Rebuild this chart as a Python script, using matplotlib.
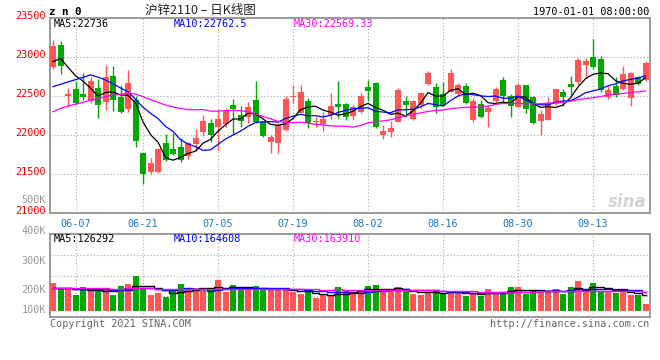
import numpy as np
import pandas as pd
import matplotlib
matplotlib.use('Agg')
import matplotlib.pyplot as plt
from matplotlib import transforms

W, H = 660, 360

# trading days shown (SHFE holidays removed)
dates = pd.bdate_range('2021-06-02', '2021-09-24')
dates = dates.drop(pd.to_datetime(['2021-06-14', '2021-09-20', '2021-09-21']))
day_labels = list(dates.strftime('%m-%d'))
tick_labels = ['06-07', '06-21', '07-05', '07-19', '08-02', '08-16', '08-30', '09-13']

# daily OHLC
open_ = [22872, 23158, 22504, 22594, 22529, 22439, 22610, 22430, 22764, 22487,
         22337, 22452, 21769, 21533, 21525, 21897, 21820, 21854, 21734, 21884,
         22046, 22161, 22110, 22145, 22388, 22259, 22230, 22452, 22169, 21918,
         21905, 22068, 22487, 22290, 22439, 22165, 22145, 22260, 22401, 22401,
         22250, 22294, 22615, 22670, 22004, 22046, 22174, 22439, 22209, 22388,
         22657, 22615, 22529, 22559, 22525, 22632, 22196, 22401, 22302, 22443,
         22709, 22504, 22366, 22645, 22495, 22187, 22196, 22401, 22559, 22653,
         22687, 22901, 23000, 22974, 22495, 22632, 22593, 22482, 22743, 22709]
high = [23222, 23213, 22603, 22700, 22803, 22751, 22718, 22901, 22892, 22645,
        22838, 22504, 21777, 21705, 21833, 22017, 22026, 21961, 21918, 22075,
        22259, 22209, 22337, 22346, 22465, 22375, 22430, 22696, 22180, 22004,
        22153, 22504, 22645, 22645, 22474, 22230, 22302, 22538, 22696, 22420,
        22388, 22546, 22709, 22680, 22132, 22187, 22603, 22504, 22452, 22555,
        22824, 22666, 22688, 22850, 22670, 22666, 22474, 22452, 22388, 22620,
        22743, 22529, 22675, 22650, 22508, 22324, 22495, 22600, 22590, 22760,
        22987, 22987, 23235, 23017, 22636, 22751, 22888, 22815, 22760, 22950]
low = [22846, 22782, 22359, 22400, 22452, 22418, 22226, 22324, 22311, 22290,
       22302, 21846, 21376, 21500, 21513, 21674, 21750, 21662, 21692, 21800,
       21991, 21918, 21812, 22110, 22017, 22102, 22153, 22160, 21974, 21769,
       21777, 22060, 22410, 22282, 22090, 22110, 22059, 22205, 22218, 22196,
       22196, 22282, 22443, 22100, 21952, 21982, 22166, 22238, 22196, 22350,
       22650, 22282, 22380, 22550, 22510, 22405, 22174, 22218, 22102, 22430,
       22430, 22238, 22358, 22282, 22150, 22004, 22196, 22390, 22380, 22516,
       22645, 22731, 22846, 22559, 22461, 22495, 22581, 22375, 22640, 22700]
close = [23149, 22892, 22529, 22410, 22495, 22696, 22388, 22751, 22452, 22302,
         22666, 21931, 21504, 21641, 21820, 21683, 21756, 21683, 21897, 21970,
         22182, 22004, 22209, 22311, 22337, 22187, 22366, 22174, 21991, 21982,
         22127, 22465, 22507, 22555, 22162, 22180, 22209, 22379, 22366, 22238,
         22358, 22507, 22572, 22110, 22059, 22097, 22580, 22388, 22439, 22538,
         22794, 22358, 22388, 22803, 22645, 22418, 22443, 22238, 22345, 22593,
         22507, 22375, 22645, 22337, 22161, 22273, 22418, 22593, 22495, 22623,
         22965, 22952, 22872, 22580, 22580, 22517, 22786, 22803, 22657, 22931]
# volume in thousands
volume = [232, 183, 183, 133, 197, 164, 183, 174, 133, 208,
          224, 291, 183, 133, 149, 116, 174, 224, 183, 191,
          191, 174, 257, 158, 216, 183, 183, 208, 183, 183,
          183, 174, 160, 147, 168, 110, 133, 125, 199, 168,
          160, 174, 208, 216, 168, 168, 199, 168, 147, 133,
          160, 174, 149, 166, 155, 125, 155, 127, 183, 158,
          158, 199, 199, 147, 166, 160, 174, 183, 141, 199,
          249, 166, 232, 168, 160, 155, 174, 133, 133, 58]

# days before the window, estimated from where the MA lines start
prior_close = [21620, 21580, 21700, 21810, 21760, 21880, 21950, 21870, 22030, 22200,
               22300, 22500, 22750, 22900, 22700, 22500, 22300, 22250, 22100, 22100,
               22590, 22230, 22110, 22200, 22390, 22680, 23100, 22950, 22840]
prior_volume = [176, 205, 188, 214, 169, 197, 183, 221, 192, 178,
                201, 186, 230, 174, 195, 182, 209, 171, 199, 188,
                216, 180, 193, 205, 198, 176, 181, 178, 190]

n = len(close)
idx = np.arange(n)
all_close = pd.Series(prior_close + close)
all_vol = pd.Series(prior_volume + volume)
ma_close = {k: all_close.rolling(k).mean().values[-n:] for k in (5, 10, 30)}
ma_vol = {k: all_vol.rolling(k).mean().values[-n:] for k in (5, 10, 30)}

RED = '#ff5555'
GREEN = '#00a800'
MA_COLORS = {5: '#000000', 10: '#0000ff', 30: '#ff00ff'}
GRID = '#a8a8a8'
BORDER = '#9a9a9a'
MONO = 'DejaVu Sans Mono'
FS = 7.3


def box(l, t, r, b):
    return [l / W, 1 - b / H, (r - l) / W, (b - t) / H]


def fx(x):
    return x / W


def fy(y):
    return 1 - y / H


fig = plt.figure(figsize=(W / 100, H / 100), dpi=100)
fig.patch.set_facecolor('white')

ax = fig.add_axes(box(50, 18.3, 650, 213.3))
axv = fig.add_axes(box(50, 234, 650, 317.3))

tick_pos = [day_labels.index(t) for t in tick_labels]

# candles
up = np.array(close) >= np.array(open_)
colors = [RED if u else GREEN for u in up]
ax.vlines(idx, low, high, colors=colors, lw=1, zorder=2)
body_bot = np.minimum(open_, close)
body_h = np.maximum(np.abs(np.array(close) - np.array(open_)), 10)
ax.bar(idx, body_h, bottom=body_bot, width=0.8, color=colors, zorder=3)
for k in (5, 10, 30):
    ax.plot(idx, ma_close[k], color=MA_COLORS[k], lw=0.9, zorder=4)

ax.set_xlim(-0.4, 79.6)
ax.set_ylim(21000, 23500)
ax.set_yticks([21000, 21500, 22000, 22500, 23000, 23500])
ax.set_yticklabels(['21000', '21500', '22000', '22500', '23000', '23500'],
                   family=MONO, fontsize=FS, color='#ee0000')
ax.set_xticks(tick_pos)
ax.set_xticklabels(tick_labels, family=MONO, fontsize=FS, color='#1a78c8')
ax.tick_params(length=0, pad=3)
ax.tick_params(axis='x', pad=4)
shift = transforms.ScaledTranslation(0, 0.03, fig.dpi_scale_trans)
for lab in ax.get_yticklabels():
    lab.set_transform(lab.get_transform() + shift)
ax.grid(True, color=GRID, ls=(0, (1, 2)), lw=0.8)
ax.set_axisbelow(True)

# volume
axv.bar(idx, volume, width=0.8, color=colors, zorder=3)
for k in (5, 10, 30):
    axv.plot(idx, ma_vol[k], color=MA_COLORS[k], lw=1, zorder=4,
             drawstyle='steps-mid')
axv.set_xlim(-0.4, 79.6)
axv.set_ylim(-6 * 8.3, 77 * 8.3)
axv.set_yticks([])
axv.set_xticks(tick_pos)
axv.tick_params(length=0, labelbottom=False)
axv.grid(True, axis='x', color=GRID, ls=(0, (1, 2)), lw=0.8)
axv.set_axisbelow(True)
for f in (0.25, 0.5, 0.75):
    axv.plot([0, 1], [f, f], transform=axv.transAxes, color=GRID,
             ls=(0, (1, 2)), lw=0.8, zorder=1)

for a in (ax, axv):
    for s in a.spines.values():
        s.set_color(BORDER)
        s.set_linewidth(1.4)

# volume axis labels
for txt, y in [('500K', 200), ('400K', 230.7), ('300K', 260.7), ('200K', 290), ('100K', 310)]:
    fig.text(fx(46), fy(y), txt, ha='right', va='center', family=MONO,
             fontsize=FS, color='#999999')

# header
fig.text(fx(49), fy(12), 'z n 0', ha='left', va='center', family=MONO,
         weight='bold', fontsize=7.8, color='black')
fig.text(fx(200), fy(10), '沪锌2110 – 日K线图', ha='center', va='center',
         family=['Noto Sans CJK SC', 'DejaVu Sans'], fontsize=9, color='#222222')
fig.text(fx(649), fy(12), '1970-01-01 08:00:00', ha='right', va='center',
         family=MONO, fontsize=FS, color='black')

# MA legends
for txt, x, c in [('MA5:22736', 54, MA_COLORS[5]), ('MA10:22762.5', 174, MA_COLORS[10]),
                  ('MA30:22569.33', 294, MA_COLORS[30])]:
    fig.text(fx(x), fy(24), txt, ha='left', va='center', family=MONO,
             fontsize=FS, color=c)
for txt, x, c in [('MA5:126292', 54, MA_COLORS[5]), ('MA10:164608', 174, MA_COLORS[10]),
                  ('MA30:163910', 294, MA_COLORS[30])]:
    fig.text(fx(x), fy(238.5), txt, ha='left', va='center', family=MONO,
             fontsize=FS, color=c)

# watermark
fig.text(fx(647), fy(202), 'sina', ha='right', va='center', fontsize=12,
         style='italic', weight='bold', color='#d4d4d4')

# footer
fig.text(fx(50), fy(324), 'Copyright 2021 SINA.COM', ha='left', va='center',
         family=MONO, fontsize=FS, color='#666666')
fig.text(fx(649), fy(324), 'http://finance.sina.com.cn', ha='right', va='center',
         family=MONO, fontsize=FS, color='#666666')

fig.savefig('out.png', dpi=100)
